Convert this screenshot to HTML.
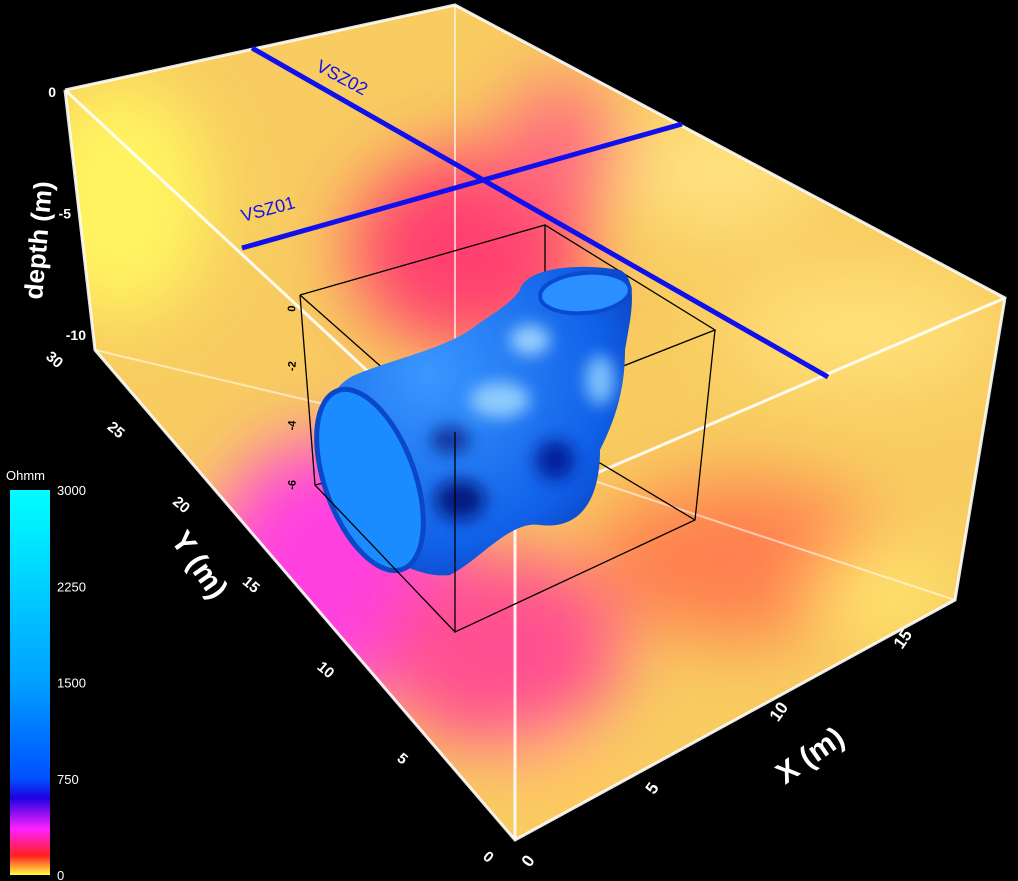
<!DOCTYPE html>
<html><head><meta charset="utf-8"><style>
html,body{margin:0;padding:0;background:#000;width:1018px;height:881px;overflow:hidden}
svg{display:block}
text{font-family:"Liberation Sans",sans-serif}
</style></head><body>
<svg id="c" width="1018" height="881" viewBox="0 0 1018 881">
<defs>
<filter id="bl" x="-30%" y="-30%" width="160%" height="160%"><feGaussianBlur stdDeviation="35"/></filter>
<filter id="bl2" x="-30%" y="-30%" width="160%" height="160%"><feGaussianBlur stdDeviation="8"/></filter>
<linearGradient id="cb" x1="0" y1="1" x2="0" y2="0">
<stop offset="0" stop-color="#ffff40"/><stop offset="0.05" stop-color="#ff2020"/><stop offset="0.12" stop-color="#ff20ff"/><stop offset="0.2" stop-color="#2000e0"/><stop offset="0.25" stop-color="#0050ff"/><stop offset="0.5" stop-color="#00a0ff"/><stop offset="1" stop-color="#00ffff"/>
</linearGradient>
<radialGradient id="bg1" cx="0.35" cy="0.35" r="0.8"><stop offset="0" stop-color="#3a98ff"/><stop offset="0.7" stop-color="#1060e8"/><stop offset="1" stop-color="#0838b0"/></radialGradient>
<clipPath id="boxclip"><polygon points="65,90 455,5 1005,298 955,600 515,840 95,350"/></clipPath>
<clipPath id="blobclip"><path d="M520,290 C525,270 570,262 620,270 C640,280 630,320 625,350 C625,390 615,420 600,450 C600,500 580,530 540,525 C510,520 480,560 450,575 C410,580 350,540 330,490 C310,450 320,390 355,375 C390,360 440,350 470,330 C490,315 510,305 520,290 Z"/></clipPath>
</defs>
<g clip-path="url(#boxclip)">
<polygon points="65,90 455,5 1005,298 955,600 515,840 95,350" fill="#f8cc60"/>
<g filter="url(#bl)">
<ellipse cx="120" cy="200" rx="90" ry="120" fill="#fff560"/>
<ellipse cx="470" cy="250" rx="120" ry="100" fill="#ff4070"/>
<ellipse cx="560" cy="150" rx="60" ry="70" fill="#ff6a80"/>
<ellipse cx="330" cy="570" rx="120" ry="130" fill="#ff40e0"/>
<ellipse cx="500" cy="650" rx="120" ry="100" fill="#ff5090"/>
<ellipse cx="740" cy="560" rx="150" ry="80" fill="#ff8050"/>
<ellipse cx="860" cy="330" rx="130" ry="60" fill="#ffe078"/>
<ellipse cx="720" cy="170" rx="100" ry="60" fill="#ffe280"/>
<ellipse cx="880" cy="590" rx="70" ry="40" fill="#ffe870"/>
<ellipse cx="560" cy="780" rx="60" ry="40" fill="#ffc860"/>
</g>
</g>
<g stroke="#fff" stroke-width="3" fill="none" opacity="0.9">
<polyline points="65,90 455,5 1005,298 955,600 515,840 95,350 65,90"/>
<polyline points="65,90 515,508 1005,298"/><line x1="515" y1="508" x2="515" y2="840"/>
<polyline points="455,5 455,435" stroke-width="2" opacity="0.7"/>
<polyline points="95,350 455,435 955,600" stroke-width="2" opacity="0.6"/>
</g>
<g stroke="#000" stroke-width="1.3" fill="none">
<polyline points="300,295 545,225 715,330 455,432 300,295"/>
<polyline points="545,225 545,430 695,520"/><line x1="545" y1="430" x2="315" y2="485"/>
</g>
<g>
<path d="M520,290 C525,270 570,262 620,270 C640,280 630,320 625,350 C625,390 615,420 600,450 C600,500 580,530 540,525 C510,520 480,560 450,575 C410,580 350,540 330,490 C310,450 320,390 355,375 C390,360 440,350 470,330 C490,315 510,305 520,290 Z" fill="url(#bg1)"/>
<g clip-path="url(#blobclip)"><g filter="url(#bl2)" opacity="0.85"><ellipse cx="460" cy="500" rx="25" ry="20" fill="#001070"/><ellipse cx="555" cy="460" rx="20" ry="20" fill="#001890"/><ellipse cx="500" cy="400" rx="30" ry="18" fill="#a0d8ff"/><ellipse cx="530" cy="340" rx="20" ry="15" fill="#b0e0ff"/><ellipse cx="600" cy="380" rx="15" ry="25" fill="#90d0ff"/><ellipse cx="450" cy="440" rx="20" ry="14" fill="#0a2a90"/></g></g>
<ellipse cx="370" cy="480" rx="45" ry="95" transform="rotate(-20 370 480)" fill="#1a8cff" stroke="#0a48c8" stroke-width="5"/>
<ellipse cx="585" cy="293" rx="45" ry="20" transform="rotate(-5 585 293)" fill="#2a90ff" stroke="#0a4ad0" stroke-width="4"/>
</g>
<g stroke="#000" stroke-width="1.3" fill="none">
<polyline points="455,432 455,632 695,520 715,330"/><polyline points="300,295 315,485 455,632"/>
</g>
<g>
<line x1="252" y1="48" x2="828" y2="377" stroke="#1010ee" stroke-width="5"/>
<line x1="242" y1="248" x2="682" y2="124" stroke="#1010ee" stroke-width="5"/>
<text x="315" y="70" fill="#1010ee" font-size="18" transform="rotate(28 315 70)">VSZ02</text>
<text x="243" y="222" fill="#1010ee" font-size="18" transform="rotate(-15 243 222)">VSZ01</text>
</g>
<text x="42" y="300" fill="#fff" font-size="26" font-weight="bold" transform="rotate(-85 42 300)">depth (m)</text>
<text x="170" y="540" fill="#fff" font-size="30" font-weight="bold" transform="rotate(55 170 540)">Y (m)</text>
<text x="785" y="785" fill="#fff" font-size="30" font-weight="bold" transform="rotate(-35 785 785)">X (m)</text>
<g id="ticks"></g>
<rect x="10" y="490" width="40" height="385" fill="url(#cb)"/>
<text x="6" y="480" fill="#fff" font-size="13">Ohmm</text>
</svg>
<script>
const cbTicks=[0,750,1500,2250,3000];
const depthTicks=[0,-5,-10];
const yTicks=[0,5,10,15,20,25,30];
const xTicks=[0,5,10,15];
const innerDepthTicks=[0,-2,-4,-6];
const g=document.getElementById('ticks');
const NS='http://www.w3.org/2000/svg';
function txt(x,y,s,size,rot,name){const t=document.createElementNS(NS,'text');t.setAttribute('x',x);t.setAttribute('y',y);t.setAttribute('fill','#fff');t.setAttribute('font-size',size);t.setAttribute('font-weight','bold');if(rot)t.setAttribute('transform',`rotate(${rot} ${x} ${y})`);t.textContent=s;


g.appendChild(t);return t;}
const cbY=v=>875-v/3000*385;
cbTicks.forEach(v=>{const t=txt(57,cbY(v)+5,String(v),13,0,'colorbar-tick');t.setAttribute('font-weight','normal');});
const dY=v=>92+(-v)/10*243;
const dX=v=>62+(-v)/10*30;
depthTicks.forEach(v=>{const t=txt(dX(v)-6,dY(v)+5,String(v),14,0,'depth-tick');t.setAttribute('text-anchor','end');});
function persp(t){const k=0.818;return t/(t+k*(1-t));}
const yPos=v=>{const p=persp(v/30);return [482-p*437,858-p*500];};
yTicks.forEach(v=>{const p=yPos(v);txt(p[0],p[1],String(v),15,40,'y-tick');});
const xPos=v=>[530+v/15*372,868-v/15*218];
xTicks.forEach(v=>{const p=xPos(v);txt(p[0],p[1],String(v),17,-55,'x-tick');});
innerDepthTicks.forEach(v=>{const t=txt(295,312+(-v)/6*178,String(v),11,-85,'inner-depth-tick');t.setAttribute('fill','#000');});
</script>
</body></html>
